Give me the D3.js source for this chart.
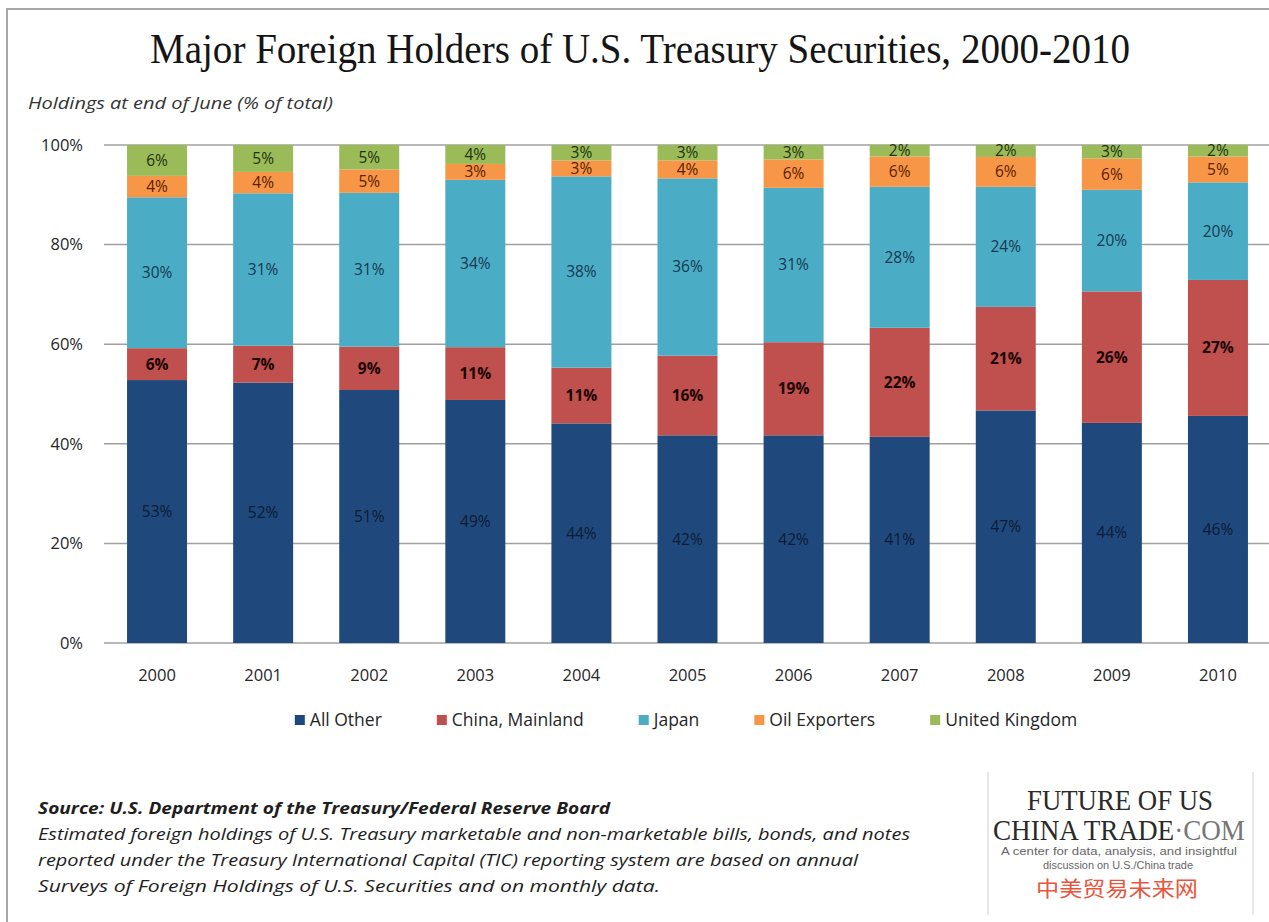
<!DOCTYPE html>
<html><head><meta charset="utf-8">
<script src="https://cdn.jsdelivr.net/npm/d3@7"></script>
<style>body{margin:0;background:#fff}svg{display:block}</style>
</head><body><svg id="c" width="1269" height="922"></svg>
<script>
const years = ["2000","2001","2002","2003","2004","2005","2006","2007","2008","2009","2010"];
const seriesNames = ["All Other","China, Mainland","Japan","Oil Exporters","United Kingdom"];
const allOther = [52.8,52.3,50.8,48.8,44.1,41.7,41.7,41.4,46.7,44.2,45.6];
const china    = [6.4,7.4,8.7,10.6,11.2,16.0,18.7,21.9,20.8,26.4,27.3];
const japan    = [30.3,30.6,30.9,33.6,38.4,35.6,31.0,28.3,24.1,20.4,19.6];
const oil      = [4.3,4.3,4.7,3.2,3.2,3.6,5.7,6.1,6.0,6.3,5.2];
const uk       = [6.2,5.4,4.9,3.8,3.1,3.1,2.9,2.3,2.4,2.7,2.3];
const yTicks = [0,20,40,60,80,100];

const titleText = "Major Foreign Holders of U.S. Treasury Securities, 2000-2010";
const subtitleText = "Holdings at end of June (% of total)";
const sourceLines = [
  "Source: U.S. Department of the Treasury/Federal Reserve Board",
  "Estimated foreign holdings of U.S. Treasury marketable and non-marketable bills, bonds, and notes",
  "reported under the Treasury International Capital (TIC) reporting system are based on annual",
  "Surveys of Foreign Holdings of U.S. Securities and on monthly data."
];

const colors = ["#1F497D","#C0504D","#4BACC6","#F79646","#9BBB59"];
const labelColors = ["#0c1a33","#1a0202","#15394f","#5a2000","#22330e"];

const seriesVals = [allOther, china, japan, oil, uk];
const table = years.map((yr,i)=>{
  const r = {year: yr};
  seriesNames.forEach((s,k)=> r[s] = seriesVals[k][i]);
  return r;
});

const svg = d3.select("#c");
svg.append("rect").attr("width",1269).attr("height",922).attr("fill","#fff");

// frame
svg.append("path").attr("d","M7,922 V9 H1269").attr("fill","none")
  .attr("stroke","#a8a8a8").attr("stroke-width",2);

const FONT = "'Open Sans', 'DejaVu Sans', sans-serif";

// title
svg.append("text").attr("x",150).attr("y",63)
  .attr("font-family","'Liberation Serif', serif").attr("font-size",42)
  .attr("fill","#151515").attr("textLength",980).attr("lengthAdjust","spacingAndGlyphs")
  .text(titleText);

svg.append("text").attr("x",28).attr("y",109)
  .attr("font-family",FONT).attr("font-style","italic").attr("font-size",16)
  .attr("fill","#333").attr("textLength",305).attr("lengthAdjust","spacingAndGlyphs")
  .text(subtitleText);

const x0 = 104, x1 = 1271, yTop = 145, yBot = 643;
const x = d3.scaleBand().domain(years).range([x0,x1]).paddingInner(0.4345).paddingOuter(0.21725);
const y = d3.scaleLinear().domain([0,100]).range([yBot,yTop]);

// gridlines
svg.append("g").selectAll("line").data(yTicks).join("line")
  .attr("x1",x0).attr("x2",1269)
  .attr("y1",d=>y(d)).attr("y2",d=>y(d))
  .attr("stroke","#a0a0a0").attr("stroke-width",1.5);

// y axis labels
const gy = svg.append("g").attr("transform",`translate(${x0},0)`)
  .call(d3.axisLeft(y).tickValues(yTicks).tickFormat(d=>d+"%").tickSize(0).tickPadding(21));
gy.select(".domain").remove();
gy.selectAll("text").attr("font-family",FONT).attr("font-size",16.5).attr("fill","#262626");

// x axis labels
const gx = svg.append("g").attr("transform",`translate(0,${yBot})`)
  .call(d3.axisBottom(x).tickSize(0).tickPadding(26));
gx.select(".domain").remove();
gx.selectAll("text").attr("font-family",FONT).attr("font-size",16.5).attr("fill","#262626");

// stacked bars
const stack = d3.stack().keys(seriesNames)(table);
const layers = svg.append("g").selectAll("g").data(stack).join("g")
  .attr("fill",(d,i)=>colors[i]);
layers.selectAll("rect").data(d=>d).join("rect")
  .attr("x",d=>x(d.data.year))
  .attr("width",x.bandwidth())
  .attr("y",d=>y(Math.min(100,d[1])))
  .attr("height",d=>y(d[0])-y(Math.min(100,d[1])));

// data labels
const lg = svg.append("g");
stack.forEach((layer,k)=>{
  lg.append("g").selectAll("text").data(layer).join("text")
    .attr("x",d=>x(d.data.year)+x.bandwidth()/2)
    .attr("y",d=>y((d[0]+Math.min(100,d[1]))/2))
    .attr("dy","0.35em")
    .attr("text-anchor","middle")
    .attr("font-family",FONT)
    .attr("font-size",15.5)
    .attr("font-weight",k===1?"bold":"normal")
    .attr("fill",labelColors[k])
    .text(d=>Math.round(d.data[layer.key])+"%");
});

// legend
const leg = svg.append("g");
const items = leg.selectAll("g").data(seriesNames).join("g");
items.append("rect").attr("width",10).attr("height",10).attr("y",-5).attr("fill",(d,i)=>colors[i]);
items.append("text").attr("x",15).attr("dy","0.35em")
  .attr("font-family",FONT).attr("font-size",17.5).attr("fill","#262626").text(d=>d);
let cx = 0;
items.each(function(){
  const g = d3.select(this);
  g.attr("transform",`translate(${cx},0)`);
  const w = 15 + g.select("text").node().getComputedTextLength();
  cx += w + 55;
});
const legW = cx - 55;
leg.attr("transform",`translate(${686 - legW/2},720)`);

// source text
const srcWidths = [572, 872, 820, 622];
sourceLines.forEach((t,i)=>{
  svg.append("text").attr("x",38).attr("y",814+i*26)
    .attr("font-family",FONT).attr("font-style","italic")
    .attr("font-weight",i===0?"bold":"normal")
    .attr("font-size",16.5).attr("fill","#1e1e1e")
    .attr("textLength",srcWidths[i]).attr("lengthAdjust","spacingAndGlyphs")
    .text(t);
});

// logo
const logo = svg.append("g");
logo.append("line").attr("x1",988).attr("x2",988).attr("y1",772).attr("y2",915).attr("stroke","#d0d0d0");
logo.append("line").attr("x1",1253).attr("x2",1253).attr("y1",772).attr("y2",915).attr("stroke","#d0d0d0");
logo.append("text").attr("x",1027).attr("y",810)
  .attr("font-family","'Liberation Serif', serif").attr("font-size",30).attr("fill","#2a2a2a")
  .attr("textLength",186).attr("lengthAdjust","spacingAndGlyphs").text("FUTURE OF US");
const t2 = logo.append("text").attr("x",993).attr("y",840)
  .attr("font-family","'Liberation Serif', serif").attr("font-size",30).attr("fill","#2a2a2a")
  .attr("textLength",252).attr("lengthAdjust","spacingAndGlyphs");
t2.append("tspan").text("CHINA TRADE");
t2.append("tspan").attr("fill","#777").text("·COM");
logo.append("text").attr("x",1119).attr("y",855).attr("text-anchor","middle")
  .attr("font-family","'Liberation Sans', Arial, sans-serif").attr("font-size",10.5).attr("fill","#666")
  .attr("textLength",236).attr("lengthAdjust","spacingAndGlyphs")
  .text("A center for data, analysis, and insightful");
logo.append("text").attr("x",1118).attr("y",869).attr("text-anchor","middle")
  .attr("font-family","'Liberation Sans', Arial, sans-serif").attr("font-size",10.5).attr("fill","#666")
  .attr("textLength",150).attr("lengthAdjust","spacingAndGlyphs")
  .text("discussion on U.S./China trade");
logo.append("text").attr("x",1117).attr("y",896).attr("text-anchor","middle")
  .attr("font-family","'Noto Sans CJK SC', sans-serif").attr("font-size",21).attr("fill","#e8553d")
  .attr("textLength",162).attr("lengthAdjust","spacingAndGlyphs")
  .text("中美贸易未来网");
</script></body></html>
